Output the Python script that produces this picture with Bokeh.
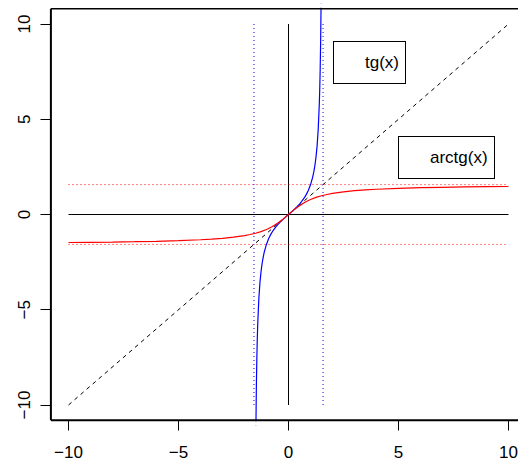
from bokeh.plotting import figure
from bokeh.models import (Range1d, LinearAxis, FixedTicker, Legend, LegendItem)
from bokeh.embed import file_html
from bokeh.resources import INLINE

# ---- data ----
ticks = [-10, -5, 0, 5, 10]
tick_labels = {-10: "\u221210", -5: "\u22125", 0: "0", 5: "5", 10: "10"}
usr = [-10.8, 10.8]          # R plotting region (xlim/ylim extended by 4 %)

span_x = [-10, 10]
zero_y = [0, 0]
span_y = [-10, 10]
zero_x = [0, 0]
diag_x = [-10, 10]
diag_y = [-10, 10]
half_pi = 1.5708

tg_x = [-1.5, -1.48, -1.46, -1.44, -1.42, -1.4, -1.35, -1.3, -1.25, -1.2, -1.15, -1.1,
        -1.0, -0.9, -0.8, -0.7, -0.6, -0.5, -0.4, -0.3, -0.2, -0.1, 0.0,
        0.1, 0.2, 0.3, 0.4, 0.5, 0.6, 0.7, 0.8, 0.9, 1.0,
        1.1, 1.15, 1.2, 1.25, 1.3, 1.35, 1.4, 1.42, 1.44, 1.46, 1.48, 1.5]
tg_y = [-14.101, -10.983, -8.989, -7.602, -6.581, -5.798, -4.455, -3.602, -3.010, -2.572, -2.234, -1.965,
        -1.557, -1.260, -1.030, -0.842, -0.684, -0.546, -0.423, -0.309, -0.203, -0.100, 0.0,
        0.100, 0.203, 0.309, 0.423, 0.546, 0.684, 0.842, 1.030, 1.260, 1.557,
        1.965, 2.234, 2.572, 3.010, 3.602, 4.455, 5.798, 6.581, 7.602, 8.989, 10.983, 14.101]

atg_x = [-10, -9, -8, -7, -6, -5, -4, -3.5, -3, -2.5, -2, -1.75, -1.5, -1.25, -1, -0.75, -0.5, -0.25, 0,
         0.25, 0.5, 0.75, 1, 1.25, 1.5, 1.75, 2, 2.5, 3, 3.5, 4, 5, 6, 7, 8, 9, 10]
atg_y = [-1.4711, -1.4601, -1.4464, -1.4289, -1.4056, -1.3734, -1.3258, -1.2925, -1.2490, -1.1903,
         -1.1071, -1.0517, -0.9828, -0.8961, -0.7854, -0.6435, -0.4636, -0.2450, 0.0,
         0.2450, 0.4636, 0.6435, 0.7854, 0.8961, 0.9828, 1.0517, 1.1071, 1.1903, 1.2490,
         1.2925, 1.3258, 1.3734, 1.4056, 1.4289, 1.4464, 1.4601, 1.4711]

FONT = "Liberation Sans"

W, H = 518, 464
LEFT, TOP, BOTTOM = 45, 3, 39          # frame a little larger than R's box
PX_X, PX_Y = 22.0, 19.05               # pixels per unit
X0, Y0 = 288, 214                      # pixel position of the origin
xr = Range1d((LEFT - X0) / PX_X, (W - X0) / PX_X)
yr = Range1d(-(H - BOTTOM - Y0) / PX_Y, (Y0 - TOP) / PX_Y)
p = figure(width=W, height=H, output_backend="svg", toolbar_location=None,
           x_range=xr, y_range=yr,
           min_border_left=LEFT, min_border_right=0, min_border_top=TOP,
           min_border_bottom=BOTTOM,
           x_axis_type=None, y_axis_type=None)
p.outline_line_color = None
p.grid.visible = False
p.background_fill_color = "white"
p.border_fill_color = "white"

def style_axis(ax):
    ax.ticker = FixedTicker(ticks=ticks)
    ax.major_label_overrides = tick_labels
    ax.major_label_text_font = FONT
    ax.major_label_text_font_size = "17px"
    ax.major_label_text_color = "black"
    ax.major_tick_out = 5
    ax.major_tick_in = 5
    ax.minor_tick_out = 0
    ax.minor_tick_in = 0
    ax.axis_line_color = None
    ax.major_tick_line_color = "black"

xax = LinearAxis()
style_axis(xax)
xax.major_label_standoff = 15
p.add_layout(xax, "below")

yax = LinearAxis()
style_axis(yax)
yax.major_label_orientation = "vertical"
yax.major_label_standoff = 11
p.add_layout(yax, "left")

# reference lines
p.line(span_x, zero_y, line_color="black", line_width=1)
p.line(zero_x, span_y, line_color="black", line_width=1)
p.line(diag_x, diag_y, line_color="black", line_width=1, line_dash="4 4")
for a in (-half_pi, half_pi):
    p.line([a, a], span_y, line_color="blue", line_width=1, line_dash="1 3")
    p.line(span_x, [a, a], line_color="red", line_width=1, line_dash="1 3")

# curves
p.line(tg_x, tg_y, line_color="blue", line_width=1.2)
p.line(atg_x, atg_y, line_color="red", line_width=1.2)

# blank out the part of the tan curve beyond R's box (R clips at ylim)
p.quad(left=usr[0], right=usr[1] + 1, bottom=usr[1] + 0.05, top=usr[1] + 2,
       fill_color="white", line_color=None)
p.quad(left=usr[0], right=usr[1] + 1, bottom=usr[0] - 2, top=usr[0] - 0.05,
       fill_color="white", line_color=None)

# R's box() around the plotting region (its right edge falls outside the picture)
p.line([usr[0], usr[0]], [usr[0], usr[1]], line_color="black", line_width=2, level="overlay")
p.line([usr[0], usr[1] + 1], [usr[0], usr[0]], line_color="black", line_width=2, level="overlay")
p.line([usr[0], usr[1] + 1], [usr[1], usr[1]], line_color="black", line_width=1.5, level="overlay")

# legend boxes (text only, like R legend)
def box(label, x, y):
    r = p.line([], [], line_alpha=0)
    lg = Legend(items=[LegendItem(label=label, renderers=[r])], location=(x, y),
                border_line_color="black", border_line_width=1, border_line_alpha=1,
                background_fill_color="white", background_fill_alpha=1,
                label_text_font=FONT, label_text_font_size="17px", label_text_color="black",
                padding=6, spacing=0, margin=0, glyph_width=20, glyph_height=29,
                label_standoff=5)
    p.add_layout(lg, "center")

box("tg(x)", 288, 341)
box("arctg(x)", 353, 246)

open("out.html", "w").write(file_html(p, INLINE))
